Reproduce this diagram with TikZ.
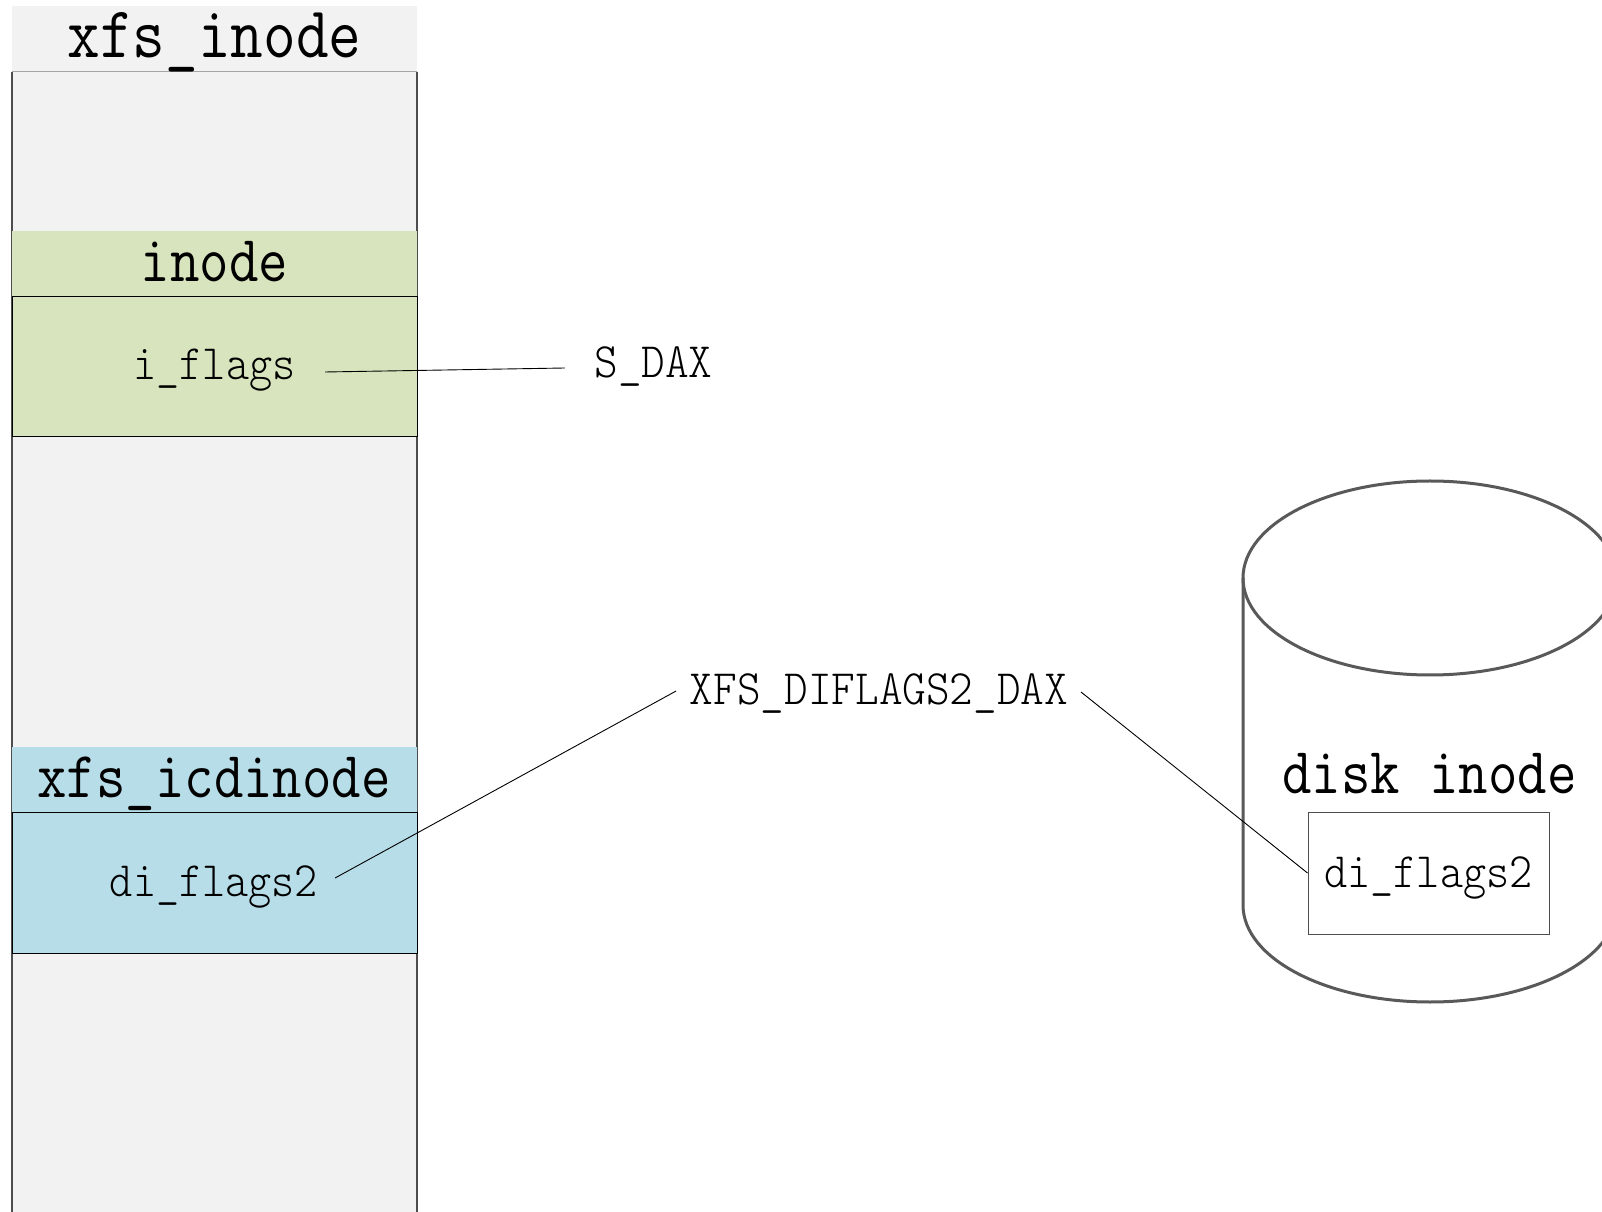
\documentclass[tikz,border=0pt]{standalone}
\usepackage{graphicx}

\definecolor{colbg}{HTML}{F2F2F2}
\definecolor{inodegreen}{HTML}{D7E4BD}
\definecolor{icdblue}{HTML}{B7DDE8}
\definecolor{edgegray}{HTML}{4D4D4D}
\definecolor{cylgray}{HTML}{595959}
\definecolor{rulegray}{HTML}{A6A6A6}

% narrow light monospaced text: field names and flag names (width factor first)
\newcommand\fieldtxt[2]{\scalebox{#1}[1]{\fontsize{49.5}{50}\selectfont\ttfamily\fontseries{l}\selectfont #2}}
% monospaced headings, size given as first argument
\newcommand\headtxt[2]{\scalebox{0.87}[1]{\fontsize{#1}{#1}\selectfont\ttfamily #2}}

\tikzset{
  band/.style={anchor=north west, inner sep=0pt, outer sep=0pt, minimum width=405pt, draw=none},
  fieldbox/.style={band, draw=black, line width=1pt},
  lbl/.style={inner sep=0pt, outer sep=0pt, anchor=base},
  link/.style={draw=black, line width=0.9pt},
  cyl/.style={draw=cylgray, line width=3pt},
}

\begin{document}
\begin{tikzpicture}[x=1pt,y=1pt]
\useasboundingbox (0,0) rectangle (1602,1211);
\clip (0,0) rectangle (1602,1211);
\fill[white] (0,0) rectangle (1602,1211);

% xfs_inode column
\node[band, fill=colbg, minimum height=66pt] (xhead) at (12,1205) {};
\node[band, fill=colbg, minimum height=1150pt] (xbody) at (12,1139) {};
\draw[edgegray, line width=1.6pt] (xbody.north west) -- (xbody.south west)
                                  (xbody.north east) -- (xbody.south east);
\draw[rulegray, line width=1pt] (xbody.north west) -- (xbody.north east);

% embedded inode
\node[band, fill=inodegreen, minimum height=66pt] (ihead) at (12,980) {};
\node[fieldbox, fill=inodegreen, minimum height=140pt] (ibody) at (12,914) {};

% embedded xfs_icdinode
\node[band, fill=icdblue, minimum height=65pt] (bhead) at (12,464) {};
\node[fieldbox, fill=icdblue, minimum height=141pt] (bbody) at (12,399) {};

% column texts
\node[lbl] (tx) at (214.5,1153) {\headtxt{72.9}{xfs\_inode}};
\node[lbl] (ti) at (214.5,929) {\headtxt{65.7}{inode}};
\node[lbl] (iflags) at (214.5,831) {\fieldtxt{0.89}{i\_flags}};
\node[lbl] (ticd) at (214,414) {\headtxt{65.7}{xfs\_icdinode}};
\node[lbl] (diflags) at (214,315) {\fieldtxt{0.89}{di\_flags2}};

% flag names
\node[lbl] (sdax) at (653.5,833) {\fieldtxt{0.91}{S\_DAX}};
\node[lbl] (xdax) at (879,507) {\fieldtxt{0.91}{XFS\_DIFLAGS2\_DAX}};

% on-disk inode drawn as a cylinder
\draw[cyl] (1430,633) ellipse [x radius=187, y radius=97];
\draw[cyl] (1243,633) -- (1243,306)
  arc[start angle=180, end angle=360, x radius=187, y radius=97] -- (1617,633);
\node[lbl] (tdisk) at (1429.5,418) {\headtxt{65.7}{disk inode}};
\node[draw=edgegray, line width=1pt, fill=white, minimum width=241pt,
      minimum height=122pt, inner sep=0pt] (dbox) at (1428.5,338) {};
\node[lbl] (dflags) at (1428.5,324) {\fieldtxt{0.89}{di\_flags2}};

% connectors
\draw[link] ([shift={(29.6,8)}]iflags.base east) -- ([shift={(-29.5,10)}]sdax.base west);
\draw[link] ([shift={(17,18)}]diflags.base east) -- ([shift={(-13.7,13)}]xdax.base west);
\draw[link] ([shift={(12.8,12)}]xdax.base east) -- (dbox.west);
\end{tikzpicture}
\end{document}
